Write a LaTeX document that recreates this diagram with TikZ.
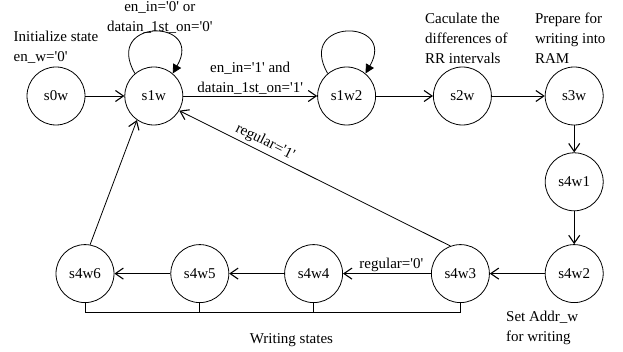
\documentclass[tikz,border=0pt]{standalone}
\usepackage{fontspec}
\setmainfont{Liberation Serif}
\usepackage{tikz}
\usetikzlibrary{arrows.meta,positioning}
\newcommand{\tick}{\textquotesingle}

\begin{document}
\begin{tikzpicture}[
		state/.style  = {draw, circle, line width=0.8pt, minimum size=58pt, inner sep=0pt, font=\fontsize{15}{17}\selectfont},
		note/.style   = {inner sep=1pt, font=\fontsize{15}{20}\selectfont},
		trans/.style  = {line width=0.8pt, -{Straight Barb[length=8pt,width=11pt,line width=1.1pt]}},
		selfloop/.style = {line width=0.8pt, -{Triangle[length=9pt,width=9pt]}},
		bracket/.style = {line width=0.8pt},
		node distance=39pt]
		
		\useasboundingbox (0,0) rectangle (623pt,-352pt);
		
		% Upper row of states
		\node[state] (s0w) at (56pt,-96pt) {s0w};
		\node[state, right=39pt of s0w] (s1w) {s1w};
		\node[state, right=134pt of s1w] (s1w2) {s1w2};
		\node[state, right=57pt of s1w2] (s2w) {s2w};
		\node[state, right=53pt of s2w] (s3w) {s3w};
		
		% Right column, then the lower row going back to the left
		\node[state, below=27pt of s3w] (s4w1) {s4w1};
		\node[state, below=33pt of s4w1] (s4w2) {s4w2};
		\node[state, left=55pt of s4w2] (s4w3) {s4w3};
		\node[state, left=88pt of s4w3] (s4w4) {s4w4};
		\node[state, left=55pt of s4w4] (s4w5) {s4w5};
		\node[state, left=56pt of s4w5] (s4w6) {s4w6};
		
		% Notes beside the states
		\begin{scope}[every node/.style={note}]
			\node[above=2pt of s0w, align=left] (n0) {Initialize state\\en\_w=\tick0\tick};
			\node[above=32pt of s1w, xshift=6pt, align=center] (n1) {en\_in=\tick0\tick{} or\\datain\_1st\_on=\tick0\tick};
			\node[above=2pt of s2w, xshift=4pt, align=left] (n2) {Caculate the\\differences of\\RR intervals};
			\node[above=2pt of s3w, xshift=-4pt, align=left] (n3) {Prepare for\\writing into\\ RAM};
			\node[below=7pt of s4w2, xshift=-32pt, align=left] (n4) {Set Addr\_w\\for writing};
		\end{scope}
		
		% Transitions
		\draw[trans] (s0w) -- (s1w);
		\draw[trans] (s1w) -- node[note, above, align=center] {en\_in=\tick1\tick{} and\\datain\_1st\_on=\tick1\tick} (s1w2);
		\draw[trans] (s1w2) -- (s2w);
		\draw[trans] (s2w) -- (s3w);
		\draw[trans] (s3w) -- (s4w1);
		\draw[trans] (s4w1) -- (s4w2);
		\draw[trans] (s4w2) -- (s4w3);
		\draw[trans] (s4w3) -- node[note, above, pos=0.45] {regular=\tick0\tick} (s4w4);
		\draw[trans] (s4w4) -- (s4w5);
		\draw[trans] (s4w5) -- (s4w6);
		\draw[trans] (s4w6.80) -- (s1w.235);
		\draw[trans] (s4w3.110) -- node[note, sloped, above=2pt, pos=0.7] {regular=\tick1\tick} (s1w.-30);
		
		% Self loops
		\draw[selfloop] (s1w.130) .. controls +(120:64pt) and +(60:64pt) .. (s1w.50);
		\draw[selfloop] (s1w2.130) .. controls +(120:64pt) and +(60:64pt) .. (s1w2.50);
		
		% Bracket under the writing states
		\draw[bracket] (s4w6.south) -- ++(0,-9pt) -| (s4w3.south)
			node[note, pos=0.275, below=20pt] (ws) {Writing states};
		\foreach \value in {4,5}
		\draw[bracket] (s4w\value.south) -- ++(0,-9pt);
		
	\end{tikzpicture}
\end{document}
